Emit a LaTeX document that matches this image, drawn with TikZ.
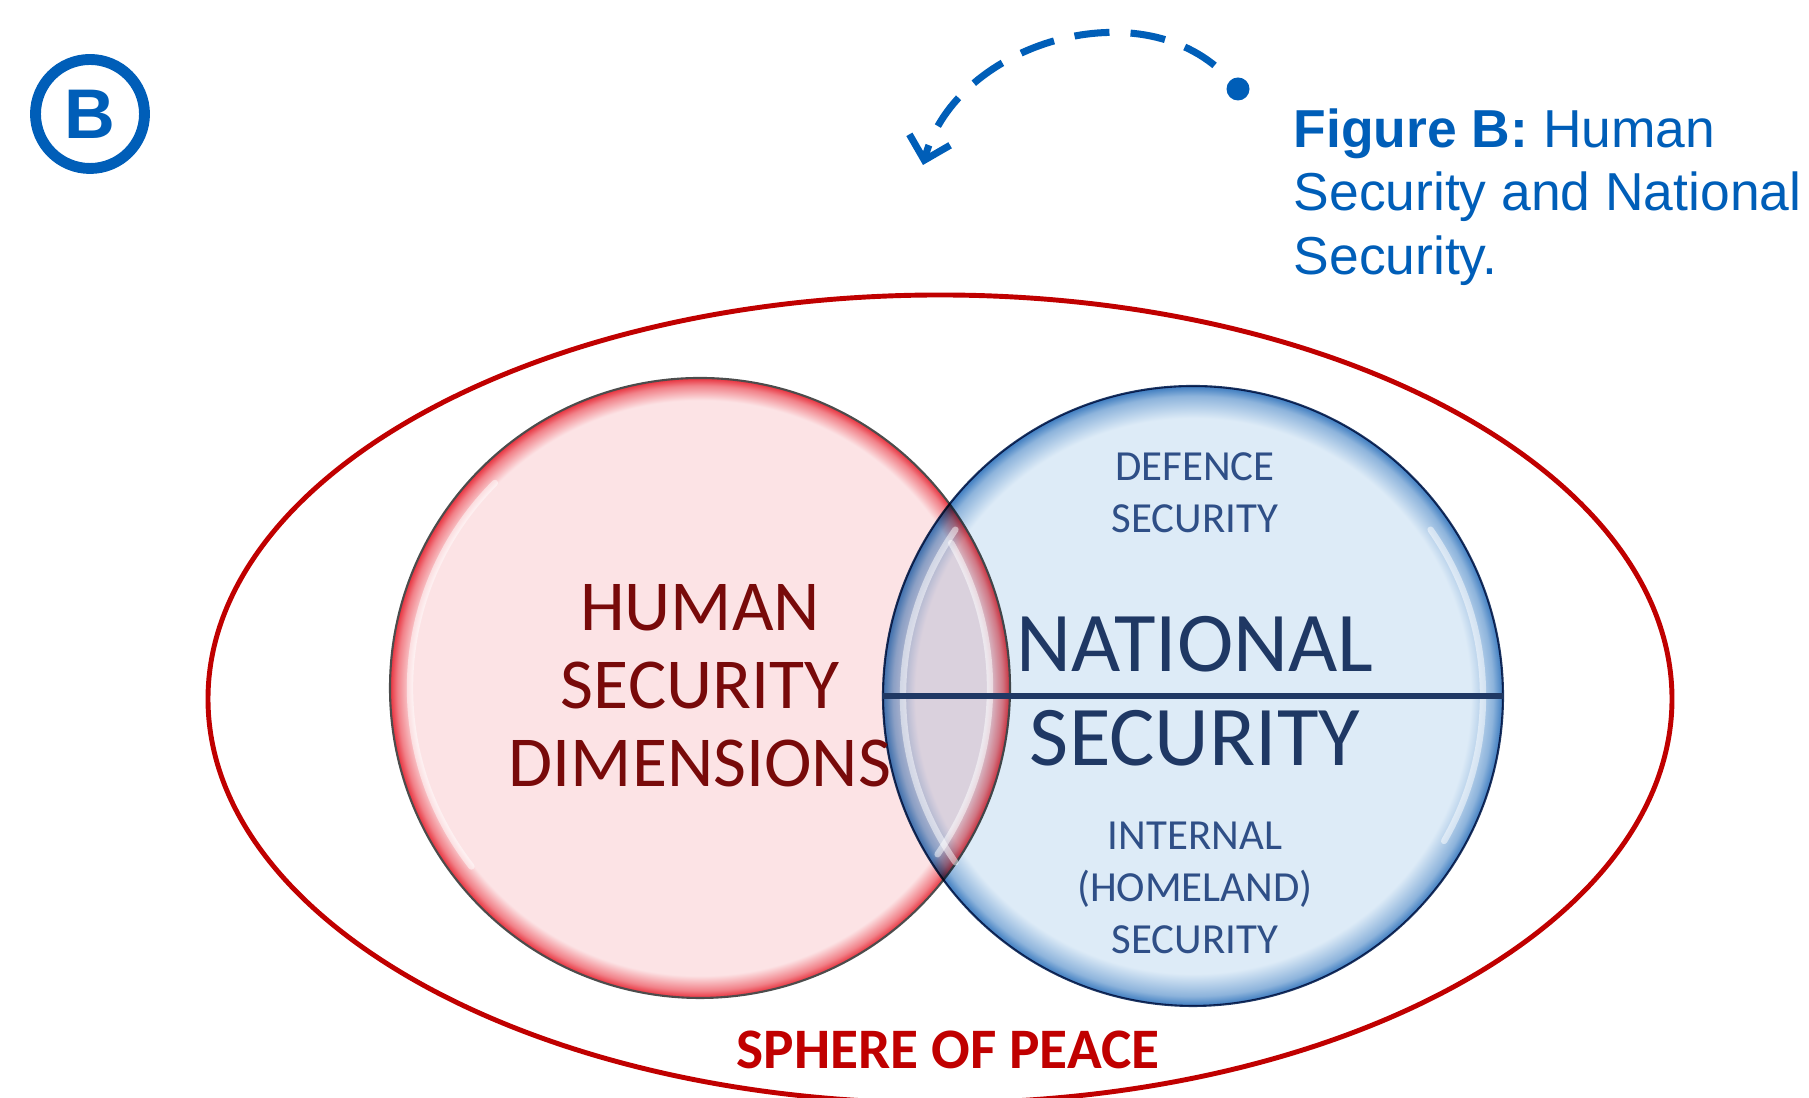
\documentclass[tikz,border=0pt]{standalone}
\usepackage{fontspec}
\usetikzlibrary{arrows.meta}
\setmainfont{Liberation Sans}
\newfontfamily\calibri{Carlito}

\definecolor{figblue}{HTML}{005EB8}
\definecolor{peacered}{HTML}{C00000}
\definecolor{pinkfill}{HTML}{FCE3E5}
\definecolor{redrim}{HTML}{E8303C}
\definecolor{bluefill}{HTML}{DDEBF7}
\definecolor{bluerim}{HTML}{3D7CC0}
\definecolor{humantext}{HTML}{780A0A}
\definecolor{navytext}{HTML}{1F3864}
\definecolor{subtext}{HTML}{2F4F87}
\colorlet{redmid}{redrim!55!pinkfill}
\colorlet{bluemid}{bluerim!50!bluefill}

\pgfdeclareradialshading{redglass}{\pgfpoint{0bp}{0bp}}{color(0bp)=(pinkfill); color(23.2bp)=(pinkfill); color(24.4bp)=(redmid); color(25bp)=(redrim); color(50bp)=(redrim)}
\pgfdeclareradialshading{blueglass}{\pgfpoint{0bp}{0bp}}{color(0bp)=(bluefill); color(22.4bp)=(bluefill); color(24.2bp)=(bluemid); color(25bp)=(bluerim); color(50bp)=(bluerim)}

\tikzset{
  venn/.style={circle, minimum size=6.2cm, inner sep=0pt, line width=0.6pt},
  gloss/.style={white, line width=1.8pt, opacity=0.5, line cap=round},
  bigtext/.style={font=\calibri\fontsize{20.4}{22.2}\selectfont, align=center},
  midtext/.style={font=\calibri\fontsize{24.2}{26}\selectfont, text=navytext},
  smalltext/.style={font=\calibri\fontsize{12.2}{14.8}\selectfont, text=subtext, align=center},
}

\begin{document}
\begin{tikzpicture}
 \useasboundingbox (0,0) rectangle (18.09,10.98);

 % badge and caption
 \node[circle, draw=figblue, line width=3.1pt, minimum size=1.09cm, inner sep=0pt, text=figblue,
   font=\bfseries\fontsize{20}{24}\selectfont] (badge) at (0.90,9.84) {B};
 \node[anchor=north west, align=left, text=figblue, inner sep=0pt,
   font=\fontsize{15.2}{18.1}\selectfont] (caption) at (12.93,9.90)
   {\textbf{Figure B:} Human\\Security and National\\Security.};

 \node[circle, fill=figblue, minimum size=0.23cm, inner sep=0pt] (dot) at (12.38,10.09) {};
 \coordinate (tip) at (9.23,9.33);
 \draw[figblue, line width=2pt, dash pattern=on 10pt off 6pt, dash phase=10pt,
   -{Straight Barb[length=6pt, width=12pt]}] (dot) to[out=132, in=75, looseness=1.02] (tip);

 % sphere of peace
 \draw[peacered, line width=1.4pt] (9.40,3.99) ellipse [x radius=7.32, y radius=4.04];
 \node[font=\calibri\bfseries\fontsize{16.3}{18}\selectfont, text=peacered] (peace) at (9.48,0.48) {SPHERE OF PEACE};

 % the two circles
 \node[venn, shading=redglass, draw=black!70] (human) at (7.00,4.10) {};
 \begin{scope}[blend mode=multiply]
  \node[venn, shading=blueglass, draw=navytext] (national) at (11.93,4.02) {};
 \end{scope}

 \draw[gloss] (human.center) ++(135:2.9) arc[start angle=135, end angle=218, radius=2.9];
 \draw[gloss] (human.center) ++(-35:2.9) arc[start angle=-35, end angle=30, radius=2.9];
 \draw[gloss] (national.center) ++(145:2.9) arc[start angle=145, end angle=215, radius=2.9];
 \draw[gloss] (national.center) ++(-30:2.9) arc[start angle=-30, end angle=35, radius=2.9];

 \draw[navytext, line width=1.9pt] (national.west) -- (national.east);

 % labels
 \node[bigtext, text=humantext] (humanlbl) at (7.00,4.12) {HUMAN\\SECURITY\\DIMENSIONS};
 \node[midtext] (natlbl) at (11.95,4.54) {NATIONAL};
 \node[midtext] (seclbl) at (11.95,3.60) {SECURITY};
 \node[smalltext] (defence) at (11.95,6.05) {DEFENCE\\SECURITY};
 \node[smalltext] (internal) at (11.95,2.10) {INTERNAL\\(HOMELAND)\\SECURITY};
\end{tikzpicture}
\end{document}
